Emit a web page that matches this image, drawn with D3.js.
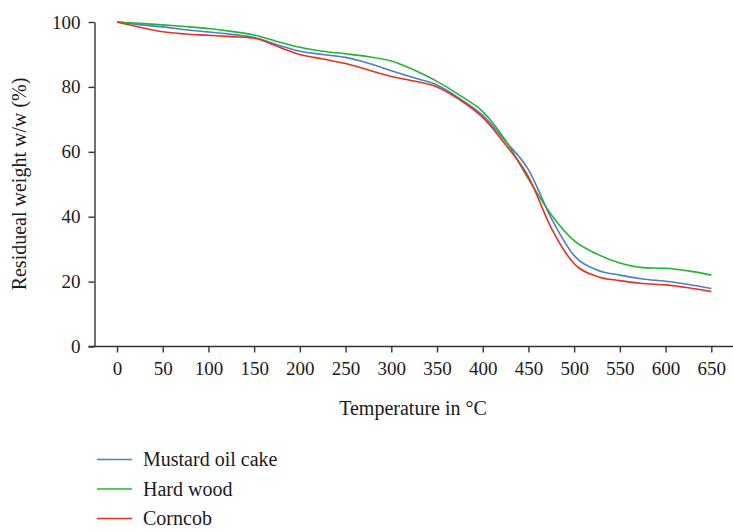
<!DOCTYPE html>
<html>
<head>
<meta charset="utf-8">
<script src="https://cdn.jsdelivr.net/npm/d3@7"></script>
<style>
  html, body { margin: 0; padding: 0; background: #fff; }
  svg { display: block; }
  text { font-family: "Liberation Serif", "DejaVu Serif", serif; fill: #1a1a1a; }
</style>
</head>
<body>
<svg id="chart" width="733" height="532"></svg>
<script>
// Temperature grid (°C)
const temperatures = [0, 25, 50, 75, 100, 125, 150, 175, 200, 225, 250, 275, 300, 325,
  350, 375, 400, 425, 450, 475, 500, 525, 550, 575, 600, 625, 650];

// Residual weight (%) per biomass
const mustardOilCake = [100, 99.2, 98.5, 97.6, 96.9, 96.2, 95.2, 93.0, 91.0, 90.0, 89.1, 87.3, 85.0, 82.8,
  80.6, 76.4, 71.2, 63.2, 54.5, 39.5, 28.0, 23.6, 22.0, 20.8, 20.1, 19.1, 17.9];
const hardWood = [100, 99.6, 99.1, 98.6, 98.0, 97.1, 96.0, 94.0, 92.2, 91.0, 90.2, 89.3, 88.0, 85.2,
  81.7, 77.4, 72.4, 63.5, 51.6, 40.6, 32.6, 28.5, 25.7, 24.3, 24.1, 23.3, 22.0];
const corncob = [100, 98.4, 97.0, 96.3, 95.9, 95.5, 95.0, 92.5, 90.0, 88.6, 87.2, 85.2, 83.2, 81.8,
  80.0, 76.0, 70.6, 62.2, 52.3, 36.5, 25.5, 21.6, 20.3, 19.4, 19.0, 18.1, 16.9];

const xTickValues = [0, 50, 100, 150, 200, 250, 300, 350, 400, 450, 500, 550, 600, 650];
const yTickValues = [0, 20, 40, 60, 80, 100];

const seriesNames = ["Mustard oil cake", "Hard wood", "Corncob"];
const seriesColors = ["#4a7fc9", "#22b531", "#e5321f"];
const seriesValues = [mustardOilCake, hardWood, corncob];

const svg = d3.select("#chart");
const axisColor = "#333";

const x = d3.scaleLinear().domain([0, 650]).range([117, 711.3]);
const y = d3.scaleLinear().domain([0, 100]).range([346.5, 22]);

// Y axis
const yAxis = svg.append("g")
  .attr("transform", "translate(94.5,0)")
  .call(d3.axisLeft(y).tickValues(yTickValues).tickSize(6).tickSizeOuter(0).tickPadding(8));
yAxis.select(".domain").attr("stroke", axisColor).attr("stroke-width", 1.4);
yAxis.selectAll(".tick line").attr("stroke", axisColor).attr("stroke-width", 1.4);
yAxis.selectAll(".tick text")
  .attr("font-size", 19).attr("font-family", "Liberation Serif, serif").attr("fill", "#1a1a1a");

// X axis
const xAxis = svg.append("g")
  .attr("transform", "translate(0,346.5)")
  .call(d3.axisBottom(x).tickValues(xTickValues).tickSize(6).tickSizeOuter(0).tickPadding(9));
xAxis.select(".domain").remove();
xAxis.append("line")
  .attr("x1", 88.5).attr("x2", 733).attr("y1", 0).attr("y2", 0)
  .attr("stroke", axisColor).attr("stroke-width", 1.4);
xAxis.selectAll(".tick line").attr("stroke", axisColor).attr("stroke-width", 1.4);
xAxis.selectAll(".tick text")
  .attr("font-size", 19).attr("font-family", "Liberation Serif, serif").attr("fill", "#1a1a1a");

// Axis titles
svg.append("text")
  .attr("x", 413).attr("y", 415)
  .attr("text-anchor", "middle")
  .attr("font-size", 20)
  .text("Temperature in °C");

svg.append("text")
  .attr("transform", "translate(26,184) rotate(-90)")
  .attr("text-anchor", "middle")
  .attr("font-size", 20)
  .text("Residueal weight w/w (%)");

// Curves
const line = d3.line()
  .x((d, i) => x(temperatures[i]))
  .y(d => y(d))
  .curve(d3.curveMonotoneX);

seriesValues.forEach((vals, k) => {
  svg.append("path")
    .datum(vals)
    .attr("fill", "none")
    .attr("stroke", seriesColors[k])
    .attr("stroke-width", 1.6)
    .attr("d", line);
});

// Legend
const legend = svg.append("g");
seriesNames.forEach((name, k) => {
  const ly = 459.5 + k * 29.5;
  legend.append("line")
    .attr("x1", 97).attr("x2", 132).attr("y1", ly).attr("y2", ly)
    .attr("stroke", seriesColors[k]).attr("stroke-width", 1.4);
  legend.append("text")
    .attr("x", 143).attr("y", ly + 6.5)
    .attr("font-size", 20)
    .text(name);
});
</script>
</body>
</html>
